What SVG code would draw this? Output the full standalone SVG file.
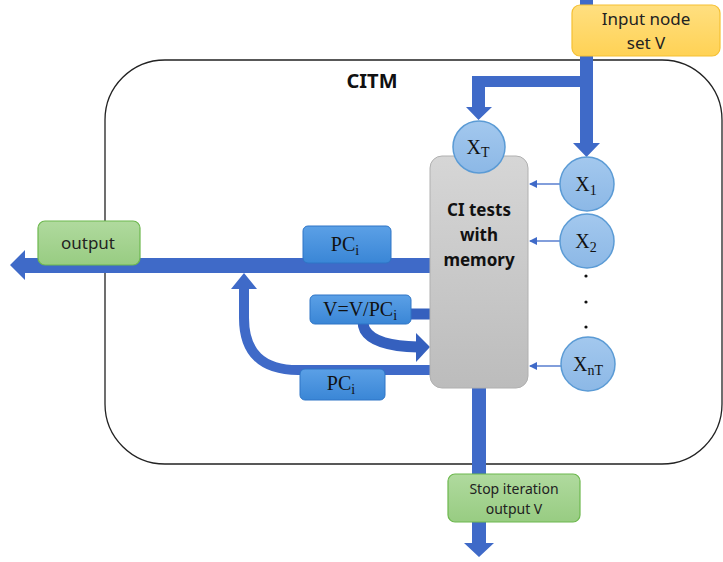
<svg xmlns="http://www.w3.org/2000/svg" width="723" height="562" viewBox="0 0 723 562">
<defs>
<linearGradient id="gGray" x1="0" y1="0" x2="0" y2="1"><stop offset="0" stop-color="#d6d6d6"/><stop offset="1" stop-color="#bcbcbc"/></linearGradient>
<linearGradient id="gBlue" x1="0" y1="0" x2="0" y2="1"><stop offset="0" stop-color="#5BA0E6"/><stop offset="1" stop-color="#3A86D6"/></linearGradient>
<linearGradient id="gCircle" x1="0" y1="0" x2="0" y2="1"><stop offset="0" stop-color="#A3C8EE"/><stop offset="1" stop-color="#8CB8E6"/></linearGradient>
<linearGradient id="gGreen" x1="0" y1="0" x2="0" y2="1"><stop offset="0" stop-color="#B0DA9E"/><stop offset="1" stop-color="#98CC82"/></linearGradient>
<linearGradient id="gGold" x1="0" y1="0" x2="0" y2="1"><stop offset="0" stop-color="#FFDF80"/><stop offset="1" stop-color="#FFD255"/></linearGradient>
<marker id="ah" markerWidth="8" markerHeight="8" refX="7" refY="4" orient="auto" markerUnits="userSpaceOnUse"><path d="M0,0 L8,4 L0,8 z" fill="#3F6AC8"/></marker>
</defs>
<style>
.sans{font-family:"Noto Sans","Liberation Sans",Arial,sans-serif;}
.serif{font-family:"Liberation Serif","DejaVu Serif",serif;}
.lbl{font-size:17px;fill:#222;text-anchor:middle;}
.mlbl{font-size:20px;fill:#111;text-anchor:middle;}
.sub{font-size:14px;}
.blk{fill:#3F6AC8;}
.thin{stroke:#3F6AC8;stroke-width:1.3;fill:none;}
.circ{fill:url(#gCircle);stroke:#5B9BD5;stroke-width:1.5;}
.pcbox{fill:url(#gBlue);stroke:#2E75C6;stroke-width:1;}
.gbox{fill:url(#gGreen);stroke:#6DB84E;stroke-width:1.2;}
</style>
<rect width="723" height="562" fill="#ffffff"/>

<g id="citm">
<rect x="105" y="60" width="617" height="404" rx="60" ry="60" fill="none" stroke="#222" stroke-width="1.3"/>
<text x="372" y="88" class="sans" font-size="20" font-weight="bold" text-anchor="middle" fill="#111">CITM</text>
</g>

<g id="connectors">
<path class="blk" d="M580,0 H593 V143 H600 L586.5,157 L573,143 H580 Z"/>
<path class="blk" d="M580,76 V87 H485 V107 H492 L478.5,120 L466,107 H472 V76 Z"/>
<path class="blk" d="M430,258 V273 H25 V280 L10,265 L25,250 V258 Z"/>
<path d="M430,370 H298 Q244,370 244,318 V287" fill="none" stroke="#3F6AC8" stroke-width="10"/>
<path class="blk" d="M231,289 L244,273 L257,289 Z"/>
<path d="M432,314 H380 Q358,316 365,330 Q374,346 418,347" fill="none" stroke="#3560BE" stroke-width="11"/>
<path d="M416,333 L430,347 L416,362 Z" fill="#3560BE"/>
<path class="blk" d="M472,388 H486 V543 H494 L479,557 L464,543 H472 Z"/>
<line class="thin" x1="560" y1="184" x2="530" y2="184" marker-end="url(#ah)"/>
<line class="thin" x1="560" y1="241" x2="530" y2="241" marker-end="url(#ah)"/>
<line class="thin" x1="562" y1="366" x2="530" y2="366" marker-end="url(#ah)"/>
</g>

<g id="input">
<rect x="572" y="5" width="148" height="51" rx="8" fill="url(#gGold)" stroke="#F5C033" stroke-width="1.2"/>
<text x="646" y="25" class="sans lbl">Input node</text>
<text x="646" y="49" class="sans lbl">set V</text>
</g>

<g id="ci">
<rect x="430" y="156" width="98" height="232" rx="12" fill="url(#gGray)" stroke="#b0b0b0" stroke-width="1"/>
<text x="479" y="216" class="sans" font-size="17" font-weight="bold" text-anchor="middle" fill="#111">CI tests</text>
<text x="479" y="241" class="sans" font-size="17" font-weight="bold" text-anchor="middle" fill="#111">with</text>
<text x="479" y="266" class="sans" font-size="17" font-weight="bold" text-anchor="middle" fill="#111">memory</text>
</g>

<g id="xt">
<circle cx="479" cy="147" r="26" class="circ"/>
<text x="478" y="154" class="serif mlbl">X<tspan class="sub" dy="3">T</tspan></text>
</g>
<g id="x1">
<circle cx="587" cy="184" r="27" class="circ"/>
<text x="586" y="191" class="serif mlbl">X<tspan class="sub" dy="4">1</tspan></text>
</g>
<g id="x2">
<circle cx="587" cy="241" r="27" class="circ"/>
<text x="586" y="248" class="serif mlbl">X<tspan class="sub" dy="4">2</tspan></text>
</g>
<g id="dots">
<circle cx="586" cy="276" r="1.6" fill="#111"/>
<circle cx="586" cy="302" r="1.6" fill="#111"/>
<circle cx="586" cy="327" r="1.6" fill="#111"/>
</g>
<g id="xnt">
<circle cx="588" cy="364" r="27" class="circ"/>
<text x="588" y="371" class="serif mlbl">X<tspan class="sub" dy="4">nT</tspan></text>
</g>

<g id="output">
<rect x="38" y="221" width="102" height="44" rx="7" class="gbox"/>
<text x="88" y="249" class="sans lbl">output</text>
</g>

<g id="pc-top">
<rect x="303" y="226" width="88" height="37" rx="5" class="pcbox"/>
<text x="345" y="251" class="serif mlbl">PC<tspan class="sub" dy="4">i</tspan></text>
</g>

<g id="vupdate">
<rect x="310" y="295" width="101" height="29" rx="5" class="pcbox"/>
<text x="360" y="316" class="serif mlbl">V=V/PC<tspan class="sub" dy="4">i</tspan></text>
</g>

<g id="pc-bottom">
<rect x="300" y="369" width="85" height="31" rx="5" class="pcbox"/>
<text x="341" y="390" class="serif mlbl">PC<tspan class="sub" dy="4">i</tspan></text>
</g>

<g id="stop">
<rect x="448" y="474" width="132" height="48" rx="7" class="gbox"/>
<text x="514" y="494" class="sans" font-size="14" fill="#222" text-anchor="middle">Stop iteration</text>
<text x="514" y="514" class="sans" font-size="14" fill="#222" text-anchor="middle">output V</text>
</g>
</svg>
